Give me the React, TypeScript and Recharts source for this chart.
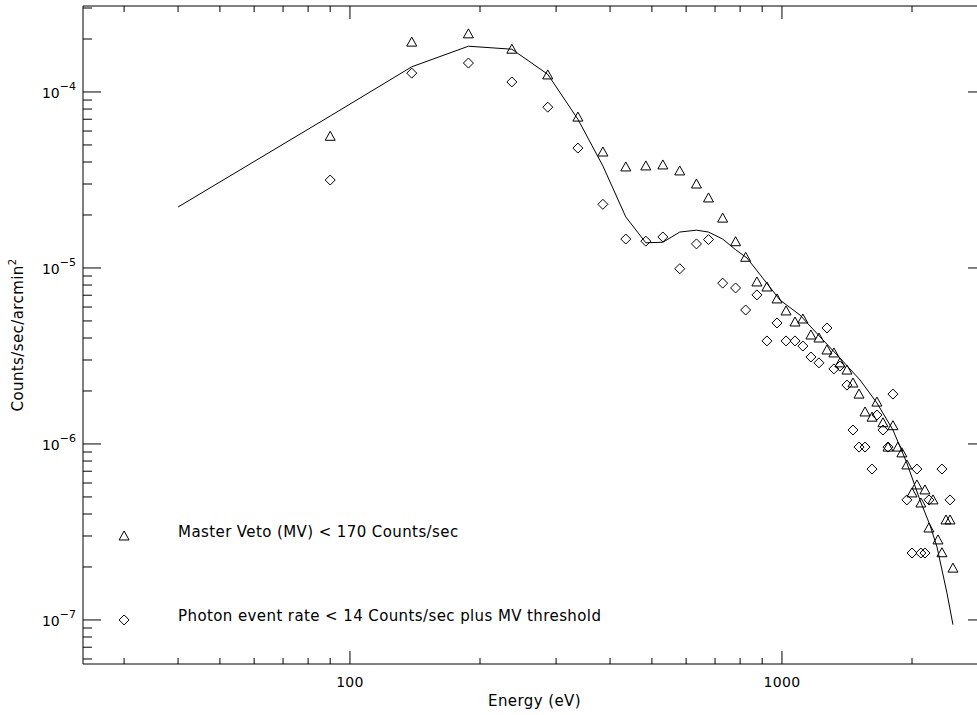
import React from 'react'
import { ComposedChart, Scatter, XAxis, YAxis } from 'recharts'

const FONT = '"DejaVu Sans", Verdana, sans-serif'
const INK = '#000'

// Master Veto (MV) < 170 counts/sec  (triangles)
const mvEnergy = [
  90, 139, 188, 237, 287, 337, 385, 435, 484, 530, 580, 634, 676, 729, 781, 824,
  875, 923, 974, 1022, 1072, 1118, 1167, 1218, 1271, 1319, 1362, 1414, 1460, 1508,
  1557, 1616, 1659, 1713, 1760, 1807, 1855, 1895, 1946, 2000, 2053, 2097, 2143,
  2189, 2237, 2297, 2346, 2397, 2449, 2488,
]
const mvRate = [
  5.6e-5, 1.92e-4, 2.14e-4, 1.75e-4, 1.25e-4, 7.2e-5, 4.56e-5, 3.75e-5, 3.8e-5,
  3.85e-5, 3.56e-5, 3.0e-5, 2.5e-5, 1.92e-5, 1.41e-5, 1.15e-5,
  8.33e-6, 7.8e-6, 6.67e-6, 5.7e-6, 4.93e-6, 5.13e-6, 4.16e-6, 4.0e-6, 3.42e-6,
  3.29e-6, 2.89e-6, 2.63e-6, 2.22e-6, 1.92e-6, 1.52e-6, 1.42e-6, 1.73e-6, 1.32e-6,
  9.6e-7, 1.27e-6, 9.6e-7, 8.9e-7, 7.6e-7, 5.27e-7, 5.85e-7, 4.62e-7, 5.48e-7,
  3.33e-7, 4.81e-7, 2.85e-7, 2.41e-7, 3.7e-7, 3.7e-7, 1.97e-7,
]

// Photon event rate < 14 counts/sec plus MV threshold  (diamonds)
const photonEnergy = [
  90, 139, 188, 237, 287, 337, 385, 435, 484, 530, 580, 634, 676, 729, 781, 824,
  875, 923, 974, 1022, 1072, 1118, 1167, 1218, 1271, 1319, 1362, 1414, 1460, 1508,
  1557, 1616, 1659, 1713, 1760, 1807, 1946, 2000, 2053, 2097, 2143, 2189, 2346, 2449,
]
const photonRate = [
  3.16e-5, 1.28e-4, 1.46e-4, 1.14e-4, 8.2e-5, 4.8e-5, 2.3e-5, 1.46e-5, 1.42e-5,
  1.5e-5, 9.9e-6, 1.37e-5, 1.45e-5, 8.2e-6, 7.7e-6, 5.77e-6,
  7.03e-6, 3.85e-6, 4.87e-6, 3.85e-6, 3.85e-6, 3.6e-6, 3.12e-6, 2.89e-6, 4.56e-6,
  2.67e-6, 2.77e-6, 2.16e-6, 1.2e-6, 9.6e-7, 9.6e-7, 7.2e-7, 1.46e-6, 1.2e-6,
  9.6e-7, 1.92e-6, 4.81e-7, 2.4e-7, 7.2e-7, 2.4e-7, 2.4e-7, 4.81e-7, 7.2e-7, 4.81e-7,
]

// model curve
const modelEnergy = [
  40, 90, 139, 188, 237, 287, 337, 385, 435, 484, 530, 580, 634, 676, 729, 781,
  830, 989, 1101, 1244, 1362, 1516, 1659, 1807, 1946, 2086, 2200, 2285, 2410, 2488,
]
const modelRate = [
  2.22e-5, 7.3e-5, 1.39e-4, 1.82e-4, 1.75e-4, 1.26e-4, 7.0e-5, 3.8e-5, 1.95e-5,
  1.39e-5, 1.4e-5, 1.6e-5, 1.64e-5, 1.6e-5, 1.46e-5, 1.27e-5, 1.14e-5, 6.58e-6,
  5.4e-6, 3.9e-6, 3.08e-6, 2.31e-6, 1.71e-6, 1.2e-6, 7.8e-7, 4.81e-7, 3.47e-7,
  2.6e-7, 1.42e-7, 9.4e-8,
]

// in-plot legend, placed in data coordinates
const legendLabels = [
  'Master Veto (MV) < 170 Counts/sec',
  'Photon event rate < 14 Counts/sec plus MV threshold',
]
const legendEnergy = [30, 30]
const legendRate = [3e-7, 1e-7]
const legendMarker = ['triangle', 'diamond']

const xMajorTicks = [100, 1000]
const xMinorTicks = [30, 40, 50, 60, 70, 80, 90, 200, 300, 400, 500, 600, 700, 800, 900, 2000]
const yMajorTicks = [1e-7, 1e-6, 1e-5, 1e-4]
const yMinorTicks = [
  6e-8, 7e-8, 8e-8, 9e-8,
  2e-7, 3e-7, 4e-7, 5e-7, 6e-7, 7e-7, 8e-7, 9e-7,
  2e-6, 3e-6, 4e-6, 5e-6, 6e-6, 7e-6, 8e-6, 9e-6,
  2e-5, 3e-5, 4e-5, 5e-5, 6e-5, 7e-5, 8e-5, 9e-5,
  2e-4, 3e-4,
]

const X_DOMAIN = [24.1, 2967]
const Y_DOMAIN = [5.62e-8, 3.08e-4]

const xTicks = [...xMinorTicks, ...xMajorTicks].sort((a, b) => a - b)
const yTicks = [...yMinorTicks, ...yMajorTicks].sort((a, b) => a - b)

const zip = (es: number[], vs: number[]) => es.map((e, i) => ({ e, v: vs[i] }))
const mvData = zip(mvEnergy, mvRate)
const photonData = zip(photonEnergy, photonRate)
const modelData = zip(modelEnergy, modelRate)
const legendData = legendLabels.map((label, i) => ({
  e: legendEnergy[i],
  v: legendRate[i],
  label,
  marker: legendMarker[i],
}))

const isMajor = (list: number[], v: number) =>
  list.some((m) => Math.abs(Math.log10(m) - Math.log10(v)) < 1e-6)

const trianglePath = (cx: number, cy: number) =>
  `M${cx},${cy - 5}L${cx + 5},${cy + 4}L${cx - 5},${cy + 4}Z`
const diamondPath = (cx: number, cy: number) =>
  `M${cx},${cy - 5}L${cx + 5},${cy}L${cx},${cy + 5}L${cx - 5},${cy}Z`

const Triangle = ({ cx, cy }: any) => (
  <path d={trianglePath(cx, cy)} fill="none" stroke={INK} strokeWidth={1} />
)
const Diamond = ({ cx, cy }: any) => (
  <path d={diamondPath(cx, cy)} fill="none" stroke={INK} strokeWidth={1} />
)
const NoDot = () => <g />

const LegendEntry = ({ cx, cy, payload }: any) => (
  <g>
    <path
      d={payload.marker === 'triangle' ? trianglePath(cx, cy) : diamondPath(cx, cy)}
      fill="none"
      stroke={INK}
      strokeWidth={1}
    />
    <text x={cx + 54} y={cy + 1} fontFamily={FONT} fontSize={15} letterSpacing={0.4} fill={INK}>
      {payload.label}
    </text>
  </g>
)

// tick marks: x ticks 13/6 px, y ticks 18/9 px
const BottomTick = ({ x, y, payload }: any) => {
  const major = isMajor(xMajorTicks, payload.value)
  return (
    <g>
      <line x1={x} x2={x} y1={y} y2={y - (major ? 13 : 6)} stroke={INK} />
      {major && (
        <text x={x} y={y + 23} textAnchor="middle" fontFamily={FONT} fontSize={14} letterSpacing={0.3} fill={INK}>
          {payload.value}
        </text>
      )}
    </g>
  )
}

const TopTick = ({ x, y, payload }: any) => {
  const major = isMajor(xMajorTicks, payload.value)
  return <line x1={x} x2={x} y1={y} y2={y + (major ? 13 : 6)} stroke={INK} />
}

const LeftTick = ({ x, y, payload }: any) => {
  const major = isMajor(yMajorTicks, payload.value)
  const exp = Math.round(Math.log10(payload.value))
  return (
    <g>
      <line x1={x} x2={x + (major ? 18 : 9)} y1={y} y2={y} stroke={INK} />
      {major && (
        <text x={x - 7} y={y + 6} textAnchor="end" fontFamily={FONT} fontSize={14} fill={INK}>
          <tspan>10</tspan>
          <tspan dy={-8} fontSize={11}>{'\u2212' + Math.abs(exp)}</tspan>
        </text>
      )}
    </g>
  )
}

const RightTick = ({ x, y, payload }: any) => {
  const major = isMajor(yMajorTicks, payload.value)
  return <line x1={x} x2={x - (major ? 18 : 9)} y1={y} y2={y} stroke={INK} />
}

const YTitle = ({ viewBox }: any) => {
  const cy = viewBox.y + viewBox.height / 2
  return (
    <text
      x={23}
      y={cy}
      transform={`rotate(-90, 23, ${cy})`}
      textAnchor="middle"
      fontFamily={FONT}
      fontSize={15}
      letterSpacing={0.4}
      fill={INK}
    >
      Counts/sec/arcmin
      <tspan dy={-7} fontSize={10}>2</tspan>
    </text>
  )
}

const XTitle = ({ viewBox }: any) => (
  <text
    x={viewBox.x + viewBox.width / 2}
    y={706}
    textAnchor="middle"
    fontFamily={FONT}
    fontSize={15}
    letterSpacing={0.4}
    fill={INK}
  >
    Energy (eV)
  </text>
)

export default function App() {
  return (
    <div
      style={{
        position: 'fixed',
        left: 0,
        top: 0,
        width: 977,
        height: 715,
        overflow: 'hidden',
        background: '#fff',
      }}
    >
      <ComposedChart width={1000} height={715} margin={{ top: 5, right: 13, bottom: 50, left: 82 }}>
        <XAxis
          xAxisId="bottom"
          dataKey="e"
          type="number"
          scale="log"
          domain={X_DOMAIN}
          allowDataOverflow
          ticks={xTicks}
          interval={0}
          height={1}
          tickSize={0}
          tickMargin={0}
          tickLine={false}
          tick={BottomTick}
          axisLine={{ stroke: INK }}
          label={{ content: XTitle }}
        />
        <XAxis
          xAxisId="top"
          orientation="top"
          dataKey="e"
          type="number"
          scale="log"
          domain={X_DOMAIN}
          allowDataOverflow
          ticks={xTicks}
          interval={0}
          height={1}
          tickSize={0}
          tickMargin={0}
          tickLine={false}
          tick={TopTick}
          axisLine={{ stroke: INK }}
        />
        <YAxis
          yAxisId="left"
          dataKey="v"
          type="number"
          scale="log"
          domain={Y_DOMAIN}
          allowDataOverflow
          ticks={yTicks}
          interval={0}
          width={1}
          tickSize={0}
          tickMargin={0}
          tickLine={false}
          tick={LeftTick}
          axisLine={{ stroke: INK }}
          label={{ content: YTitle }}
        />
        <YAxis
          yAxisId="right"
          orientation="right"
          dataKey="v"
          type="number"
          scale="log"
          domain={Y_DOMAIN}
          allowDataOverflow
          ticks={yTicks}
          interval={0}
          width={1}
          tickSize={0}
          tickMargin={0}
          tickLine={false}
          tick={RightTick}
          axisLine={{ stroke: INK }}
        />
        <Scatter
          name="model"
          data={modelData}
          xAxisId="bottom"
          yAxisId="left"
          line={{ stroke: INK, strokeWidth: 1 }}
          lineType="joint"
          shape={NoDot}
          isAnimationActive={false}
        />
        <Scatter
          name="MV"
          data={mvData}
          xAxisId="bottom"
          yAxisId="left"
          shape={Triangle}
          isAnimationActive={false}
        />
        <Scatter
          name="photon"
          data={photonData}
          xAxisId="bottom"
          yAxisId="left"
          shape={Diamond}
          isAnimationActive={false}
        />
        <Scatter
          name="legend"
          data={legendData}
          xAxisId="bottom"
          yAxisId="left"
          shape={LegendEntry}
          isAnimationActive={false}
        />
      </ComposedChart>
    </div>
  )
}
